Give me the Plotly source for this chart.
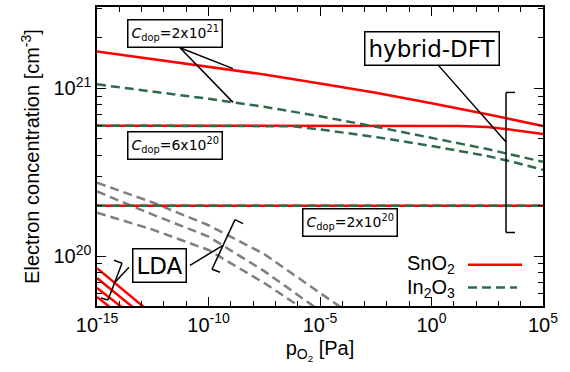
import plotly.graph_objects as go

# ---------------- data ----------------
x_hyb = [1e-15, 10**-12.5, 1e-10, 10**-7.5, 1e-5, 10**-2.5, 1e0, 10**2.5, 1e5]

sno2_hyb_2e21 = [1.66e21, 1.495e21, 1.349e21, 1.21e21, 1.07e21, 9.41e20, 8.15e20, 7.02e20, 5.96e20]
in2o3_hyb_2e21 = [1.057e21, 9.60e20, 8.67e20, 7.77e20, 6.82e20, 5.91e20, 5.09e20, 4.35e20, 3.65e20]

x_6e20 = [1e-15, 1e-10, 10**-7.5, 10**-6.25, 1e-5, 10**-2.5, 1e0, 10**1.25, 10**2.5, 10**3.75, 1e5]
sno2_hyb_6e20 = [6.0e20, 6.0e20, 6.0e20, 6.0e20, 6.0e20, 6.0e20, 6.0e20, 5.97e20, 5.88e20, 5.64e20, 5.35e20]
in2o3_hyb_6e20 = [6.0e20, 6.0e20, 6.0e20, 5.95e20, 5.7e20, 5.13e20, 4.54e20, 4.25e20, 3.96e20, 3.62e20, 3.27e20]

x_2e20 = [1e-15, 1e5]
sno2_hyb_2e20 = [2.0e20, 2.0e20]
in2o3_hyb_2e20 = [2.0e20, 2.0e20]

x_lda_in = [1e-15, 10**-12.5, 1e-10, 10**-7.5, 1e-5, 1e-4]
in2o3_lda_a = [2.74e20, 2.09e20, 1.53e20, 1.03e20, 6.04e19, 4.9e19]
in2o3_lda_b = [2.43e20, 1.77e20, 1.31e20, 8.15e19, 4.73e19, 3.8e19]
in2o3_lda_c = [1.82e20, 1.44e20, 1.09e20, 6.92e19, 4.18e19, 3.4e19]

x_lda_sn_a = [1e-15, 1e-12]
sno2_lda_a = [8.49e19, 3.96e19]
x_lda_sn_b = [1e-15, 10**-12.5]
sno2_lda_b = [7.41e19, 3.98e19]
x_lda_sn_c = [1e-15, 1e-13]
sno2_lda_c = [6.47e19, 4.03e19]
x_lda_sn_d = [1e-15, 1e-14]
sno2_lda_d = [5.72e19, 4.49e19]

x_ticks = [1e-15, 1e-10, 1e-5, 1e0, 1e5]
x_ticktext = ["10<sup>-15</sup>", "10<sup>-10</sup>", "10<sup>-5</sup>", "10<sup>0</sup>", "10<sup>5</sup>"]
y_ticks = [1e20, 1e21]
y_ticktext = ["10<sup>20</sup>", "10<sup>21</sup>"]

RED = "#ff0000"
GREEN = "#2f6b4a"
GRAY = "#7f7f7f"
LW = 2.5
DASH = "9px,5px"

fig = go.Figure()

for ys in (in2o3_lda_a, in2o3_lda_b, in2o3_lda_c):
    fig.add_trace(go.Scatter(x=x_lda_in, y=ys, mode="lines",
                             line=dict(color=GRAY, width=LW, dash=DASH), showlegend=False))
for xs, ys in ((x_lda_sn_a, sno2_lda_a), (x_lda_sn_b, sno2_lda_b),
               (x_lda_sn_c, sno2_lda_c), (x_lda_sn_d, sno2_lda_d)):
    fig.add_trace(go.Scatter(x=xs, y=ys, mode="lines",
                             line=dict(color=RED, width=LW), showlegend=False))

fig.add_trace(go.Scatter(x=x_hyb, y=sno2_hyb_2e21, mode="lines", line=dict(color=RED, width=LW), showlegend=False))
fig.add_trace(go.Scatter(x=x_6e20, y=sno2_hyb_6e20, mode="lines", line=dict(color=RED, width=LW), showlegend=False))
fig.add_trace(go.Scatter(x=x_2e20, y=sno2_hyb_2e20, mode="lines", line=dict(color=RED, width=LW), showlegend=False))
fig.add_trace(go.Scatter(x=x_hyb, y=in2o3_hyb_2e21, mode="lines", line=dict(color=GREEN, width=LW, dash=DASH), showlegend=False))
fig.add_trace(go.Scatter(x=x_6e20, y=in2o3_hyb_6e20, mode="lines", line=dict(color=GREEN, width=LW, dash=DASH), showlegend=False))
fig.add_trace(go.Scatter(x=x_2e20, y=in2o3_hyb_2e20, mode="lines", line=dict(color=GREEN, width=LW, dash=DASH), showlegend=False))

# ------------- layout -------------
L, R, T, B = 97, 27, 5, 66
W, H = 570, 372
PW, PH = W - L - R, H - T - B


def px(x):
    return (x - L) / PW


def py(y):
    return (H - B - y) / PH


AX_FONT = dict(family="Liberation Sans, Arial, sans-serif", size=20, color="black")
ANN_FONT = "DejaVu Sans, sans-serif"

minor_x = [10.0 ** k for k in range(-15, 6)]
minor_y = [m * 10.0 ** e for e in (19, 20, 21) for m in range(1, 10)]

fig.update_layout(
    width=W, height=H,
    margin=dict(l=L, r=R, t=T, b=B),
    paper_bgcolor="white", plot_bgcolor="white",
    showlegend=False,
    xaxis=dict(type="log", range=[-15, 5], tickmode="array", tickvals=x_ticks, ticktext=x_ticktext,
               ticks="inside", ticklen=9, tickwidth=1.2, tickcolor="black",
               showline=True, linecolor="black", linewidth=1.5, mirror="allticks",
               showgrid=False, zeroline=False, tickfont=AX_FONT,
               minor=dict(tickmode="array", tickvals=minor_x, ticks="inside", ticklen=5,
                          tickwidth=1.2, tickcolor="black", showgrid=False),
               title=dict(text="p<sub>O<sub>2</sub></sub> [Pa]", font=AX_FONT, standoff=6)),
    yaxis=dict(type="log", range=[19.7035, 21.485], tickmode="array", tickvals=y_ticks, ticktext=y_ticktext,
               ticks="inside", ticklen=9, tickwidth=1.2, tickcolor="black",
               showline=True, linecolor="black", linewidth=1.5, mirror="allticks",
               showgrid=False, zeroline=False, tickfont=AX_FONT,
               minor=dict(tickmode="array", tickvals=minor_y, ticks="inside", ticklen=5,
                          tickwidth=1.2, tickcolor="black", showgrid=False),
               title=dict(text="Electron concentration [cm<sup>-3</sup>]", font=AX_FONT, standoff=8)),
)

anns = []


def box(text, cx, cy, size):
    anns.append(dict(text=text, x=px(cx), y=py(cy), xref="paper", yref="paper",
                     xanchor="center", yanchor="middle", showarrow=False,
                     font=dict(family=ANN_FONT, size=size, color="black"),
                     bgcolor="white", bordercolor="black", borderwidth=1.5, borderpad=3))


box("<i>C</i><sub>dop</sub>=2x10<sup>21</sup>", 174.5, 32, 14)
box("<i>C</i><sub>dop</sub>=6x10<sup>20</sup>", 175, 144.5, 14)
box("<i>C</i><sub>dop</sub>=2x10<sup>20</sup>", 350, 221.5, 14)
box("hybrid-DFT", 432, 46.5, 23)
box("LDA", 159, 265, 23)

# legend (manual, text left of sample line)
anns.append(dict(text="SnO<sub>2</sub>", x=px(457), y=py(264), xref="paper", yref="paper",
                 xanchor="right", yanchor="middle", showarrow=False, font=AX_FONT))
anns.append(dict(text="In<sub>2</sub>O<sub>3</sub>", x=px(457), y=py(288), xref="paper", yref="paper",
                 xanchor="right", yanchor="middle", showarrow=False, font=AX_FONT))

shapes = []


def seg(x0, y0, x1, y1, color="black", width=1.5, dash=None):
    ln = dict(color=color, width=width)
    if dash:
        ln["dash"] = dash
    shapes.append(dict(type="line", xref="paper", yref="paper",
                       x0=px(x0), y0=py(y0), x1=px(x1), y1=py(y1), line=ln, layer="above"))


# pointer lines for C_dop = 2x10^21
seg(180, 46, 233, 67)
seg(180, 46, 233, 101)
# hybrid-DFT bracket and pointer
seg(436, 61, 506, 141)
seg(506, 91, 506, 232)
seg(506, 91, 515, 91)
seg(506, 232, 515, 232)
# LDA bracket (In2O3) and pointer
seg(190, 265, 223, 245)
seg(212, 269, 235, 219)
seg(235, 219, 243, 223)
seg(212, 269, 220, 272)
# LDA bracket (SnO2) and pointer
seg(129, 267, 115, 282)
seg(108, 300, 122, 263)
seg(122, 263, 114, 260)
seg(108, 300, 101, 298)
# legend samples
seg(468, 264.5, 522, 264.5, color=RED, width=LW)
seg(468, 287.5, 517, 287.5, color=GREEN, width=LW, dash=DASH)

fig.update_layout(annotations=anns, shapes=shapes)
fig.write_html("out.html", config={"displayModeBar": False},
               post_script="document.body.style.margin='0px';")
